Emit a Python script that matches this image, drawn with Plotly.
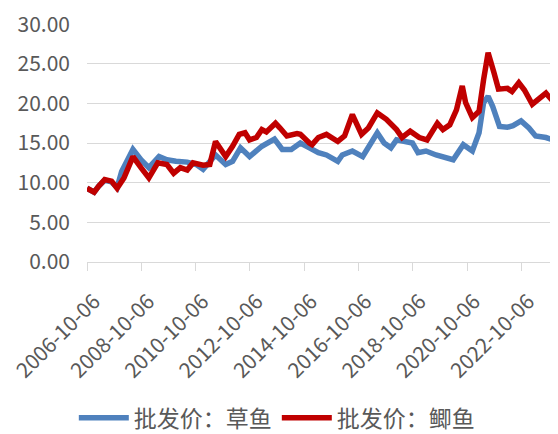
import plotly.graph_objects as go

# 批发价：草鱼 (grass carp)
grass_dates = [
    "2006-10-06", "2007-01-10", "2007-03-15", "2007-06-01", "2007-09-01", "2007-11-15",
    "2008-01-15", "2008-06-15", "2008-10-01", "2009-01-15", "2009-06-01", "2009-09-15",
    "2010-01-15", "2010-06-15", "2010-10-15", "2011-01-15", "2011-07-01", "2011-11-15",
    "2012-02-15", "2012-06-01", "2012-10-01", "2013-03-15", "2013-09-01", "2013-12-15",
    "2014-04-15", "2014-07-01", "2014-08-15", "2014-12-15", "2015-02-15", "2015-04-15",
    "2015-08-01", "2016-01-01", "2016-03-01", "2016-07-15", "2016-12-01", "2017-03-01",
    "2017-06-15", "2017-09-15", "2017-12-15", "2018-03-01", "2018-07-01", "2018-10-01",
    "2018-12-15", "2019-04-01", "2019-08-15", "2019-12-15", "2020-04-01", "2020-08-15",
    "2020-12-15", "2021-03-15", "2021-05-15", "2021-07-15", "2021-09-15", "2021-12-15",
    "2022-04-01", "2022-06-15", "2022-10-01", "2023-01-15", "2023-04-15", "2023-09-01",
    "2024-02-10",
]
grass_values = [
    9.3, 8.8, 9.6, 10.3, 10.1, 9.4,
    11.4, 14.2, 12.9, 11.9, 13.3, 12.9,
    12.7, 12.6, 12.3, 11.7, 13.5, 12.3,
    12.7, 14.4, 13.3, 14.6, 15.5, 14.2,
    14.2, 14.8, 15.0, 14.4, 14.0, 13.8,
    13.5, 12.7, 13.5, 14.0, 13.3, 14.6,
    16.3, 15.0, 14.4, 15.4, 15.2, 15.0,
    13.8, 14.0, 13.5, 13.1, 12.9, 14.8,
    14.0, 16.3, 20.1, 20.9, 19.6, 17.1,
    17.0, 17.2, 17.8, 16.9, 15.9, 15.7,
    15.2,
]

# 批发价：鲫鱼 (crucian carp)
crucian_dates = [
    "2006-10-06", "2007-01-10", "2007-03-15", "2007-06-01", "2007-09-01", "2007-11-15",
    "2008-02-15", "2008-06-15", "2008-10-01", "2009-01-15", "2009-05-15", "2009-09-15",
    "2009-12-15", "2010-03-15", "2010-06-15", "2010-09-01", "2011-01-15", "2011-04-15",
    "2011-07-01", "2011-11-15", "2012-02-15", "2012-05-15", "2012-08-01", "2012-10-01",
    "2013-01-01", "2013-03-15", "2013-05-15", "2013-09-15", "2013-11-15", "2014-02-15",
    "2014-07-01", "2014-08-15", "2014-12-15", "2015-01-20", "2015-04-15", "2015-08-01",
    "2016-01-01", "2016-04-01", "2016-07-15", "2016-11-15", "2017-02-15", "2017-06-15",
    "2017-10-15", "2018-03-01", "2018-05-15", "2018-09-01", "2019-01-01", "2019-04-15",
    "2019-09-01", "2019-11-15", "2020-02-15", "2020-05-15", "2020-08-01", "2020-09-15",
    "2020-12-15", "2021-03-15", "2021-05-15", "2021-07-15", "2021-10-01", "2021-12-01",
    "2022-04-01", "2022-06-01", "2022-09-01", "2022-11-15", "2023-03-01", "2023-09-01",
    "2023-12-01", "2024-02-10",
]
crucian_values = [
    9.3, 8.8, 9.6, 10.4, 10.2, 9.3,
    10.6, 13.3, 11.9, 10.6, 12.5, 12.3,
    11.2, 11.9, 11.6, 12.5, 12.2, 12.3,
    15.2, 13.3, 14.6, 16.1, 16.3, 15.4,
    15.7, 16.7, 16.4, 17.5, 16.9, 15.9,
    16.2, 16.1, 15.0, 14.8, 15.7, 16.1,
    15.2, 15.9, 18.6, 16.1, 16.9, 18.8,
    18.0, 16.7, 15.7, 16.5, 15.7, 15.4,
    17.5, 16.7, 17.3, 19.2, 22.2, 20.1,
    18.2, 19.0, 23.0, 26.4, 23.9, 21.8,
    21.9, 21.5, 22.6, 21.7, 19.9, 21.3,
    20.3, 20.9,
]

tick_dates = ["2006-10-06", "2008-10-06", "2010-10-06", "2012-10-06", "2014-10-06",
              "2016-10-06", "2018-10-06", "2020-10-06", "2022-10-06"]
y_ticks = [0, 5, 10, 15, 20, 25, 30]

FONT = "Noto Sans CJK SC"
GREY = "#595959"

fig = go.Figure()
fig.add_trace(go.Scatter(x=grass_dates, y=grass_values, mode="lines", name="批发价：草鱼",
                         line=dict(color="#4F81BD", width=5.5)))
fig.add_trace(go.Scatter(x=crucian_dates, y=crucian_values, mode="lines", name="批发价：鲫鱼",
                         line=dict(color="#C00000", width=5.5)))

# page body has an 8px default margin, so the figure is 550x426 and offset by 8px
fig.update_layout(
    width=550, height=426,
    margin=dict(l=79, r=0, t=16, b=172, autoexpand=False),
    paper_bgcolor="white", plot_bgcolor="white",
    font=dict(family=FONT, color=GREY),
    showlegend=True,
    legend=dict(orientation="h", x=0.403, xanchor="center", y=-0.655, yanchor="middle",
                font=dict(size=23, color=GREY, family=FONT), itemwidth=50,
                bgcolor="rgba(0,0,0,0)"),
)
fig.update_xaxes(
    type="date", range=["2006-10-06", "2024-02-10"], automargin=False,
    tickvals=tick_dates, ticktext=tick_dates, tickangle=-45,
    tickfont=dict(size=21, color=GREY, family=FONT), ticklabeloverflow="allow",
    ticks="outside", ticklen=8, tickcolor="#D9D9D9", tickwidth=1,
    showline=True, linecolor="#D9D9D9", linewidth=1,
    showgrid=False, zeroline=False, ticklabelstandoff=10, ticklabelshift=7,
)
fig.update_yaxes(
    range=[0, 30.02], tickvals=y_ticks, tickformat=".2f", automargin=False,
    tickfont=dict(size=21, color=GREY, family=FONT), ticklabeloverflow="allow",
    showgrid=True, gridcolor="#D9D9D9", gridwidth=1,
    showline=False, zeroline=False, ticks="", ticklabelstandoff=16,
)

fig.write_html("out.html")
